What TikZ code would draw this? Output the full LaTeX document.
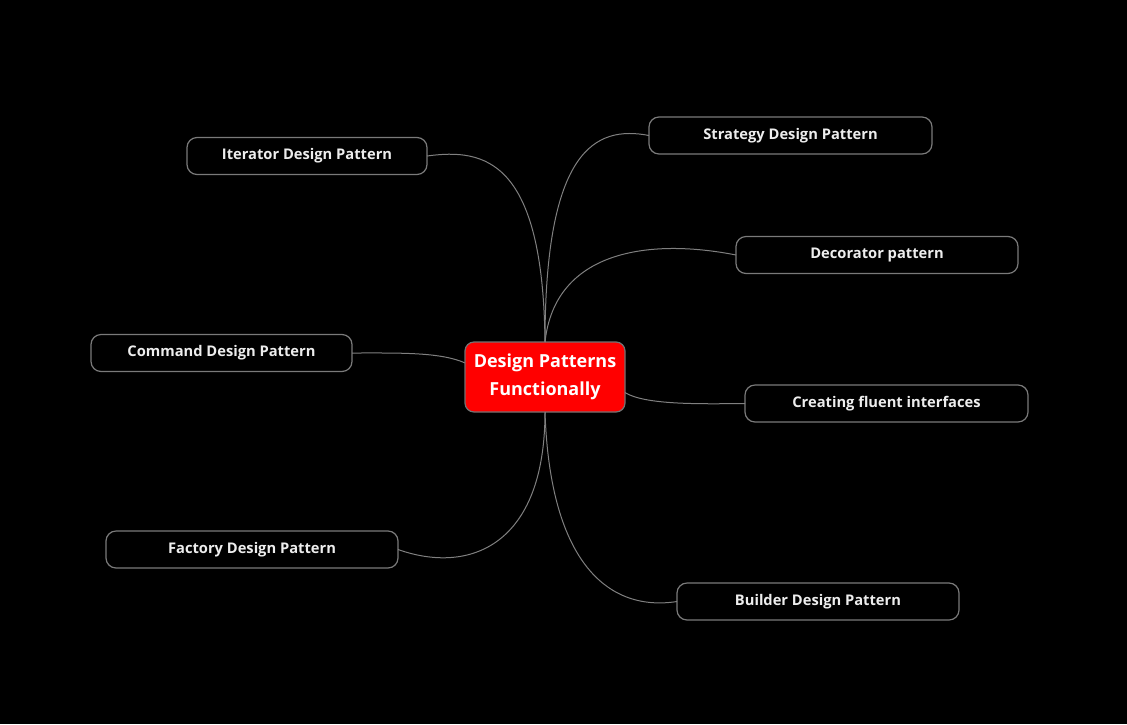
\documentclass[tikz,border=0pt]{standalone}
\usepackage{fontspec}
\setmainfont{Open Sans}
\begin{document}
\begin{tikzpicture}[x=1pt,y=-1pt,
  leaf/.style={draw=black!52!white, line width=1.2pt, fill=black, rounded corners=10pt,
    minimum height=37pt, inner sep=0pt, outer sep=0pt, text=white!93!black,
    font=\fontsize{14.7}{17}\selectfont\bfseries},
  hub/.style={draw=black!55!white, line width=1.2pt, fill=red, rounded corners=9pt,
    minimum width=160pt, minimum height=70pt, inner sep=0pt, outer sep=0pt, text=white,
    align=center, font=\fontsize{18}{28}\selectfont\bfseries},
  link/.style={draw=black!50!white, line width=1pt}]
\fill[black] (0,0) rectangle (1127,724);
\useasboundingbox (0,0) rectangle (1127,724);
\node[hub] (c) at (545,377) {Design Patterns\\Functionally};
\node[leaf, minimum width=240pt] (it) at (307,156) {Iterator Design Pattern};
\node[leaf, minimum width=283pt] (st) at (790.5,135.5) {Strategy Design Pattern};
\node[leaf, minimum width=282pt] (de) at (877,255) {Decorator pattern};
\node[leaf, minimum width=261pt] (co) at (221.5,353) {Command Design Pattern};
\node[leaf, minimum width=283pt] (cr) at (886.5,403.5) {Creating fluent interfaces};
\node[leaf, minimum width=292pt] (fa) at (252,549.5) {Factory Design Pattern};
\node[leaf, minimum width=282pt] (bu) at (818,601.5) {Builder Design Pattern};
\draw[link] (c.north) .. controls (543,160) and (485,148) .. (it.east);
\draw[link] (c.north) .. controls (545,150) and (595,125) .. (st.west);
\draw[link] (c.north) .. controls (555,250) and (650,238) .. (de.west);
\draw[link] (c.170) .. controls (440,352) and (400,353) .. (co.east);
\draw[link] (c.-11) .. controls (645,405) and (700,404) .. (cr.west);
\draw[link] (c.south) .. controls (545,545) and (470,575) .. (fa.east);
\draw[link] (c.south) .. controls (550,565) and (610,612) .. (bu.west);
\end{tikzpicture}
\end{document}
